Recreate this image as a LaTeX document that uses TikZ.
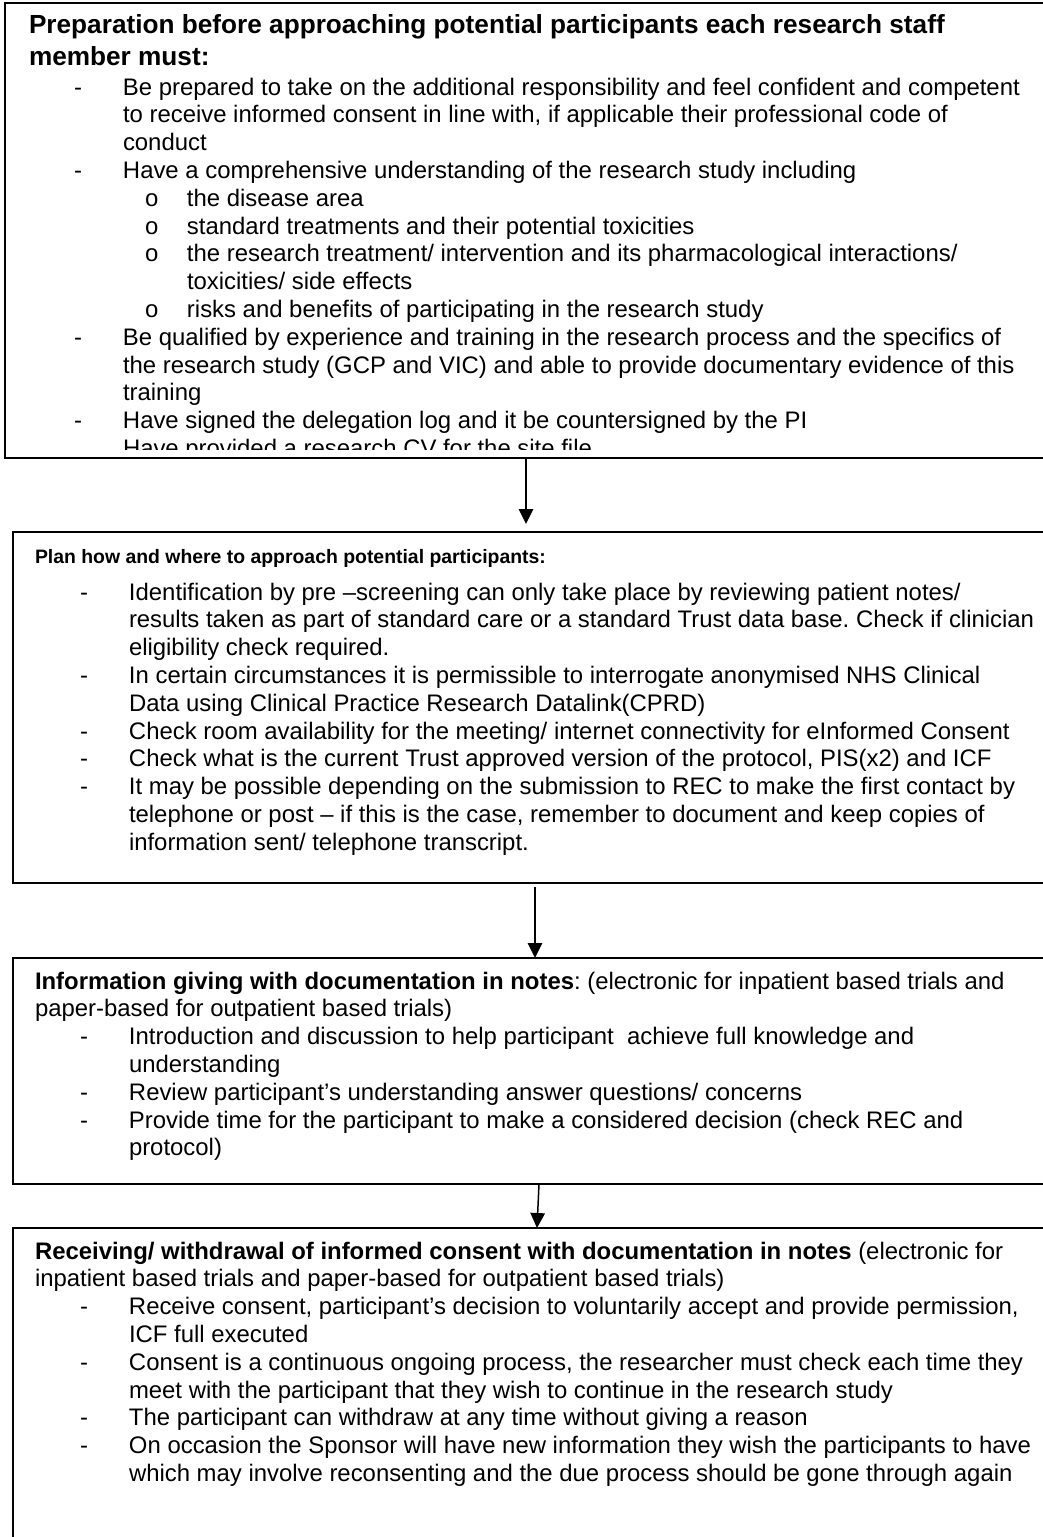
\documentclass[tikz,border=0pt]{standalone}
\usepackage{fontspec}
\setmainfont{Liberation Sans}
\usetikzlibrary{arrows.meta}
\frenchspacing
\newlength\dx \newlength\tx \newlength\ox \newlength\otx
\setlength\dx{45pt}\setlength\tx{94pt}\setlength\ox{116pt}\setlength\otx{158pt}
\newcommand\DL[1]{\noindent\hspace*{\dx}\makebox[\dimexpr\tx-\dx\relax][l]{-}#1\par}
\newcommand\CL[1]{\noindent\hspace*{\tx}#1\par}
\newcommand\OL[1]{\noindent\hspace*{\ox}\makebox[\dimexpr\otx-\ox\relax][l]{o}#1\par}
\newcommand\OC[1]{\noindent\hspace*{\otx}#1\par}
\newcommand\HL[1]{\noindent#1\par}
\newcommand\bodyfont{\fontsize{23.9}{27.8}\selectfont}
\newcommand\titlefont{\fontsize{26.2}{32}\selectfont\bfseries}
\newcommand\smallhead{\fontsize{19.4}{27.8}\selectfont\bfseries}
\tikzset{
  box/.style={draw=black, line width=1.8pt, fill=white, anchor=north west, inner sep=0pt, outer sep=0pt},
  txt/.style={anchor=base west, inner sep=0pt, outer sep=0pt},
  arr/.style={line width=1.5pt, -{Triangle[width=14.5pt,length=15pt]}},
}
\begin{document}
\begin{tikzpicture}[x=1pt,y=-1pt]
\useasboundingbox (0,0) rectangle (1043,1537);
% boxes
\node[box, minimum width=1070pt, minimum height=455pt] (b1) at (5,3) {};
\node[box, minimum width=1060pt, minimum height=351pt] (b2) at (12.7,532) {};
\node[box, minimum width=1060pt, minimum height=226pt] (b3) at (12.7,958) {};
\node[box, minimum width=1060pt, minimum height=360pt] (b4) at (12.7,1228) {};
% box 1 text (clipped at the bottom)
\begin{scope}
\clip (0,0) rectangle (1043,449.5);
\node[txt] (t1) at (29,33) {\parbox[t]{1100pt}{\setlength\parindent{0pt}\setlength\parskip{0pt}%
\titlefont
\HL{Preparation before approaching potential participants each research staff}
\HL{member must:}
\vspace{2.2pt}\bodyfont\mdseries
\DL{Be prepared to take on the additional responsibility and feel confident and competent}
\CL{to receive informed consent in line with, if applicable their professional code of}
\CL{conduct}
\DL{Have a comprehensive understanding of the research study including}
\OL{the disease area}
\OL{standard treatments and their potential toxicities}
\OL{the research treatment/ intervention and its pharmacological interactions/}
\OC{toxicities/ side effects}
\OL{risks and benefits of participating in the research study}
\DL{Be qualified by experience and training in the research process and the specifics of}
\CL{the research study (GCP and VIC) and able to provide documentary evidence of this}
\CL{training}
\DL{Have signed the delegation log and it be countersigned by the PI}
\CL{Have provided a research CV for the site file}
}};
\end{scope}
% box 2 text
\node[txt] (t2) at (35,563) {\parbox[t]{1100pt}{\setlength\parindent{0pt}\setlength\parskip{0pt}%
\smallhead
\HL{Plan how and where to approach potential participants:}
\vspace{9.2pt}\bodyfont\mdseries
\DL{Identification by pre –screening can only take place by reviewing patient notes/}
\CL{results taken as part of standard care or a standard Trust data base. Check if clinician}
\CL{eligibility check required.}
\DL{In certain circumstances it is permissible to interrogate anonymised NHS Clinical}
\CL{Data using Clinical Practice Research Datalink(CPRD)}
\DL{Check room availability for the meeting/ internet connectivity for eInformed Consent}
\DL{Check what is the current Trust approved version of the protocol, PIS(x2) and ICF}
\DL{It may be possible depending on the submission to REC to make the first contact by}
\CL{telephone or post – if this is the case, remember to document and keep copies of}
\CL{information sent/ telephone transcript.}
}};
% box 3 text
\node[txt] (t3) at (35,989) {\parbox[t]{1100pt}{\setlength\parindent{0pt}\setlength\parskip{0pt}%
\bodyfont
\HL{\textbf{Information giving with documentation in notes}: (electronic for inpatient based trials and}
\HL{paper-based for outpatient based trials)}
\DL{Introduction and discussion to help participant \ achieve full knowledge and}
\CL{understanding}
\DL{Review participant’s understanding answer questions/ concerns}
\DL{Provide time for the participant to make a considered decision (check REC and}
\CL{protocol)}
}};
% box 4 text
\node[txt] (t4) at (35,1259) {\parbox[t]{1100pt}{\setlength\parindent{0pt}\setlength\parskip{0pt}%
\bodyfont
\HL{\textbf{Receiving/ withdrawal of informed consent with documentation in notes} (electronic for}
\HL{inpatient based trials and paper-based for outpatient based trials)}
\DL{Receive consent, participant’s decision to voluntarily accept and provide permission,}
\CL{ICF full executed}
\DL{Consent is a continuous ongoing process, the researcher must check each time they}
\CL{meet with the participant that they wish to continue in the research study}
\DL{The participant can withdraw at any time without giving a reason}
\DL{On occasion the Sponsor will have new information they wish the participants to have}
\CL{which may involve reconsenting and the due process should be gone through again}
}};
% arrows
\draw[arr, shorten >=8pt] (526,0 |- b1.south) -- (526,0 |- b2.north);
\draw[arr, shorten <=4pt] (535,0 |- b2.south) -- (535,0 |- b3.north);
\draw[arr] (539,0 |- b3.south) -- (537,0 |- b4.north);
\end{tikzpicture}
\end{document}
